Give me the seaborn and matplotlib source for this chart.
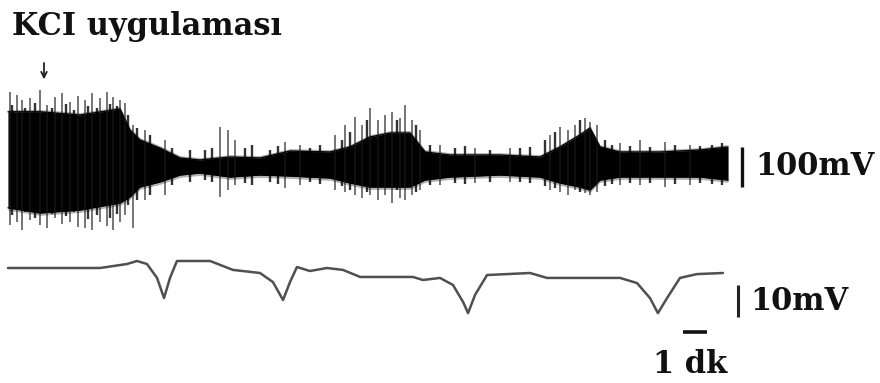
import numpy as np
import pandas as pd
import matplotlib
matplotlib.use("Agg")
import matplotlib.pyplot as plt
import seaborn as sns

sns.set_theme(style="white")
plt.rcParams["font.family"] = ["DejaVu Serif"]

# ---- upper trace (EEG, mV) : dense envelope ----
env_t = [0, 1.33, 3.0, 4.67, 5.08, 5.5, 6.33, 7.17, 8.0, 9.25, 10.5, 11.75, 13.42, 14.25,
         15.08, 15.92, 16.75, 17.38, 18.42, 20.5, 22.17, 23.0, 23.83, 24.25, 24.67, 25.5,
         27.17, 28.83, 30.0]
env_top = [128, 128, 120, 135, 82.5, 57.5, 37.5, 12.5, 7.5, 15, 12.5, 30, 27.5, 40,
           65, 75, 75, 27.5, 20, 20, 15, 40, 70, 87.5, 40, 27.5, 27.5, 32.5, 40]
env_bot = [-112, -125, -117.5, -100, -85, -60, -47.5, -30, -25, -35, -30, -32.5, -37.5, -50,
           -60, -60, -60, -42.5, -35, -30, -35, -50, -60, -67.5, -42.5, -35, -35, -35, -42.5]

# ---- upper trace : tall spikes (min, hi mV, lo mV) ----
spike_t = [0.08, 0.375, 0.58, 0.92, 1.33, 1.625, 1.96, 2.25, 2.58, 2.92, 3.21, 3.5, 3.83,
           4.125, 4.375, 4.67, 4.875, 5.21, 5.71, 6.54, 8.83, 9.17, 9.46, 11.54, 12.17,
           13.625, 14.04, 14.46, 14.75, 15.08, 15.42, 15.71, 16.0, 16.33, 16.54, 16.83,
           17.17, 18.0, 19.46, 20.92, 22.58, 23.0, 23.33, 23.625, 24.04, 24.25, 24.54,
           25.5, 26.33, 27.375, 28.42]
spike_hi = [177.5, 170, 157.5, 162.5, 182.5, 145, 165, 175, 152.5, 167.5, 157.5, 175, 162.5,
            177.5, 165, 157.5, 150, 95, 82.5, 57.5, 90, 82.5, 57.5, 52.5, 45,
            70, 95, 115, 95, 137.5, 107.5, 120, 127.5, 112.5, 145, 107.5,
            82.5, 45, 37.5, 37.5, 70, 90, 82.5, 95, 112.5, 102.5, 95,
            50, 57.5, 52.5, 45]
spike_lo = [-155, -147.5, -167.5, -142.5, -155, -162.5, -137.5, -152.5, -147.5, -160, -162.5,
            -167.5, -147.5, -157.5, -167.5, -147.5, -130, -162.5, -92.5, -80, -85, -67.5, -55,
            -62.5, -55, -67.5, -72.5, -80, -87.5, -80, -92.5, -80, -100, -87.5, -92.5, -80,
            -67.5, -55, -50, -47.5, -67.5, -72.5, -80, -67.5, -75, -80, -72.5,
            -55, -55, -60, -55]

# ---- upper trace : short spikes along the band edges ----
small_t = [0.17, 0.71, 1.125, 1.83, 2.42, 2.75, 3.33, 3.71, 4.25, 4.54, 5.0, 5.375, 5.92,
           6.83, 7.58, 8.21, 8.5, 9.875, 10.17, 10.92, 11.25, 12.58, 13.0, 13.92, 14.25,
           14.96, 16.21, 17.0, 17.58, 18.625, 19.04, 20.08, 21.33, 21.75, 22.375, 22.79,
           23.83, 24.875, 25.17, 25.92, 26.75, 27.79, 28.83, 29.33, 29.75]
small_hi = [145, 137.5, 150, 137.5, 147.5, 132.5, 142.5, 137.5, 147.5, 142.5, 120, 87.5, 70,
            37.5, 32.5, 32.5, 37.5, 37.5, 45, 32.5, 42.5, 37.5, 45, 57.5, 77.5,
            107.5, 107.5, 95, 45, 37.5, 42.5, 32.5, 37.5, 40, 57.5, 77.5,
            107.5, 57.5, 45, 42.5, 40, 45, 42.5, 45, 50]
small_lo = [-130, -122.5, -137.5, -127.5, -132.5, -122.5, -140, -130, -137.5, -127.5, -105,
            -92.5, -80, -55, -47.5, -42.5, -47.5, -50, -55, -47.5, -52.5, -47.5, -52.5, -57.5,
            -67.5, -72.5, -67.5, -72.5, -55, -50, -52.5, -47.5, -47.5, -50, -57.5, -62.5,
            -72.5, -57.5, -52.5, -50, -50, -52.5, -50, -52.5, -55]

# ---- lower trace (DC potential, mV) ----
dc_t = [0, 2.46, 3.83, 4.96, 5.375, 5.79, 6.21, 6.5, 6.75, 7.04, 8.42, 9.375, 10.5, 11.04,
        11.46, 11.75, 12.04, 12.58, 13.29, 13.96, 14.67, 16.875, 17.29, 18.0, 18.54, 18.96,
        19.17, 19.46, 19.96, 21.75, 22.46, 25.5, 26.21, 26.75, 27.08, 27.46, 28.0, 28.71, 29.79]
dc_mv = [0, 0, 0, 1.25, 2.19, 1.25, -3.1, -9.4, -3.1, 2.19, 2.19, -0.6, -1.56, -4.4,
         -10.0, -4.4, 0.31, -0.94, 0, -0.6, -2.8, -2.8, -3.75, -3.1, -5.3, -10.6,
         -14.1, -8.4, -2.2, -1.56, -3.1, -3.1, -4.7, -9.4, -14.1, -9.4, -3.1, -1.9, -1.56]

title_txt = "KCI uygulaması"
scale_eeg_txt = "100mV"
scale_dc_txt = "10mV"
time_txt = "1 dk"
scale_eeg = 100
scale_dc = 10
scale_time = 1

W, H = 880, 383
fig = plt.figure(figsize=(W / 100, H / 100), dpi=100)
fig.patch.set_facecolor("white")

def fx(px):
    return px / W

def fy(py):
    return 1 - py / H

xlim = (-8 / 24, 872 / 24)

# upper axes
ax1 = fig.add_axes([0, fy(240), 1, 200 / H])
ax1.set_xlim(*xlim)
ax1.set_ylim(-192.5, 307.5)
ax1.axis("off")
env = pd.DataFrame({"t": env_t, "top": env_top, "bot": env_bot})
halo = 6
ax1.fill_between(env["t"], env["bot"] - halo, env["top"] + halo, color="black", alpha=0.3, lw=0)
ax1.fill_between(env["t"], env["bot"], env["top"], color="black", lw=0)
sns.lineplot(data=env, x="t", y="top", ax=ax1, color="black", lw=1.0, estimator=None)
sns.lineplot(data=env, x="t", y="bot", ax=ax1, color="black", lw=1.0, estimator=None)
ax1.vlines(small_t, small_lo, small_hi, color="black", lw=1.7, alpha=0.8)
ax1.vlines(spike_t, spike_lo, spike_hi, color="#1a1a1a", lw=1.3, alpha=0.65)
# scale bar 100 mV
ax1.plot([30.58, 30.58], [40, 40 - scale_eeg], color="#111111", lw=2.4, solid_capstyle="butt")
# arrow
ax1.annotate("", xy=(1.5, 202), xytext=(1.5, 257),
             arrowprops=dict(arrowstyle="->", color="#222222", lw=1.3, mutation_scale=10))

# lower axes
ax2 = fig.add_axes([0, 0, 1, 143 / H])
ax2.set_xlim(*xlim)
ax2.set_ylim(-35.9375, 8.75)
ax2.axis("off")
dc = pd.DataFrame({"t": dc_t, "mv": dc_mv})
sns.lineplot(data=dc, x="t", y="mv", ax=ax2, color="#505050", lw=1.8, estimator=None)
ax2.plot([30.42, 30.42], [-5.3, -5.3 - scale_dc], color="#222222", lw=2.2, solid_capstyle="butt")
ax2.plot([28.125, 28.125 + scale_time], [-20, -20], color="#111111", lw=2.6, solid_capstyle="butt")

txt = dict(fontsize=22, fontweight="bold", color="#111111", family=["DejaVu Serif"])
fig.text(fx(12), fy(35), title_txt, ha="left", va="baseline", **txt)
fig.text(fx(755), fy(175), scale_eeg_txt, ha="left", va="baseline", **txt)
fig.text(fx(750), fy(310), scale_dc_txt, ha="left", va="baseline", **txt)
fig.text(fx(690), fy(373), time_txt, ha="center", va="baseline", **txt)

fig.savefig("out.png", dpi=100, facecolor="white")
